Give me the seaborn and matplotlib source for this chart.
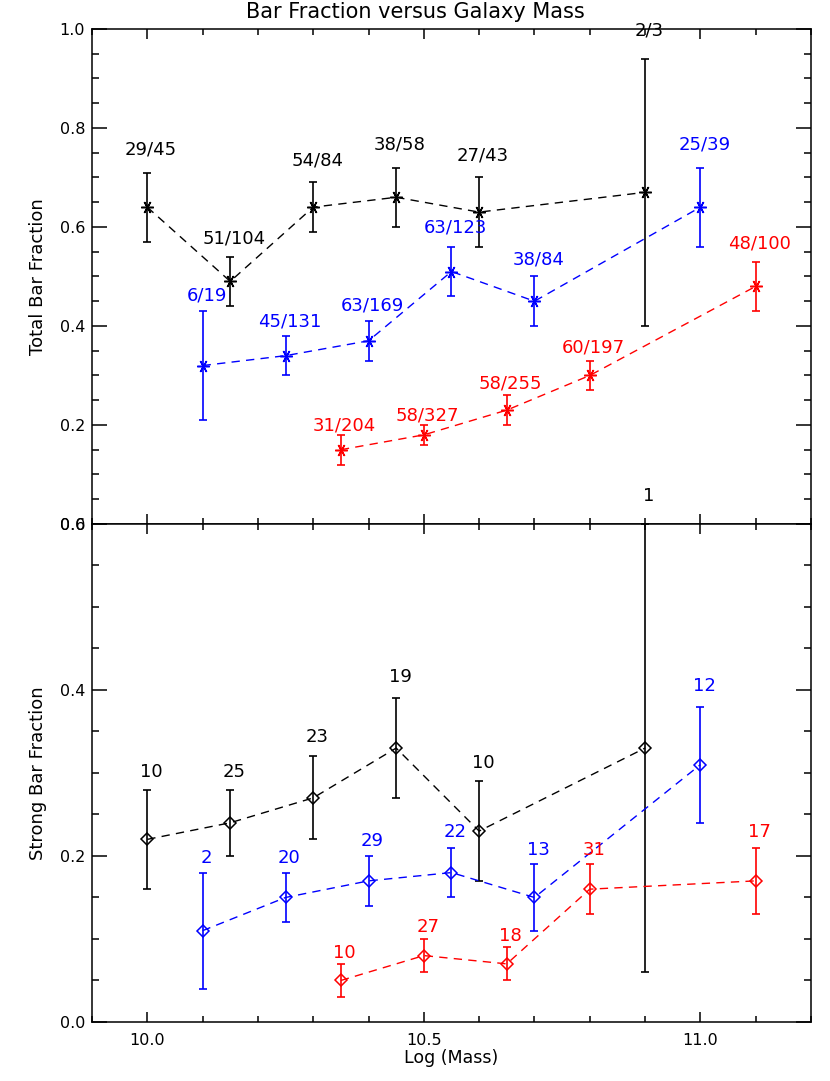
import numpy as np
import matplotlib
matplotlib.use("Agg")
import matplotlib.pyplot as plt
import seaborn as sns

# Total bar fraction (top panel)
tot_black_x = [10.0, 10.15, 10.3, 10.45, 10.6, 10.9]
tot_black_y = [0.64, 0.49, 0.64, 0.66, 0.63, 0.67]
tot_black_lo = [0.57, 0.44, 0.59, 0.60, 0.56, 0.40]
tot_black_hi = [0.71, 0.54, 0.69, 0.72, 0.70, 0.94]
tot_black_lab = ["29/45", "51/104", "54/84", "38/58", "27/43", "2/3"]

tot_blue_x = [10.1, 10.25, 10.4, 10.55, 10.7, 11.0]
tot_blue_y = [0.32, 0.34, 0.37, 0.51, 0.45, 0.64]
tot_blue_lo = [0.21, 0.30, 0.33, 0.46, 0.40, 0.56]
tot_blue_hi = [0.43, 0.38, 0.41, 0.56, 0.50, 0.72]
tot_blue_lab = ["6/19", "45/131", "63/169", "63/123", "38/84", "25/39"]

tot_red_x = [10.35, 10.5, 10.65, 10.8, 11.1]
tot_red_y = [0.15, 0.18, 0.23, 0.30, 0.48]
tot_red_lo = [0.12, 0.16, 0.20, 0.27, 0.43]
tot_red_hi = [0.18, 0.20, 0.26, 0.33, 0.53]
tot_red_lab = ["31/204", "58/327", "58/255", "60/197", "48/100"]

# Strong bar fraction (bottom panel)
str_black_x = [10.0, 10.15, 10.3, 10.45, 10.6, 10.9]
str_black_y = [0.22, 0.24, 0.27, 0.33, 0.23, 0.33]
str_black_lo = [0.16, 0.20, 0.22, 0.27, 0.17, 0.06]
str_black_hi = [0.28, 0.28, 0.32, 0.39, 0.29, 0.60]
str_black_lab = ["10", "25", "23", "19", "10", "1"]

str_blue_x = [10.1, 10.25, 10.4, 10.55, 10.7, 11.0]
str_blue_y = [0.11, 0.15, 0.17, 0.18, 0.15, 0.31]
str_blue_lo = [0.04, 0.12, 0.14, 0.15, 0.11, 0.24]
str_blue_hi = [0.18, 0.18, 0.20, 0.21, 0.19, 0.38]
str_blue_lab = ["2", "20", "29", "22", "13", "12"]

str_red_x = [10.35, 10.5, 10.65, 10.8, 11.1]
str_red_y = [0.05, 0.08, 0.07, 0.16, 0.17]
str_red_lo = [0.03, 0.06, 0.05, 0.13, 0.13]
str_red_hi = [0.07, 0.10, 0.09, 0.19, 0.21]
str_red_lab = ["10", "27", "18", "31", "17"]

sns.set_style("ticks")
plt.rcParams['font.family'] = ['DejaVu Sans']
plt.rcParams['text.color'] = 'black'
plt.rcParams['axes.labelcolor'] = 'black'
plt.rcParams['xtick.color'] = 'black'
plt.rcParams['ytick.color'] = 'black'

fig = plt.figure(figsize=(8.3, 10.81), dpi=100)
ax1 = fig.add_axes([0.1108, 0.5153, 0.8663, 0.4579])
ax2 = fig.add_axes([0.1108, 0.0546, 0.8663, 0.4607])

top_series = [
    (tot_black_x, tot_black_y, tot_black_lo, tot_black_hi, tot_black_lab, "black"),
    (tot_blue_x, tot_blue_y, tot_blue_lo, tot_blue_hi, tot_blue_lab, "#0000ff"),
    (tot_red_x, tot_red_y, tot_red_lo, tot_red_hi, tot_red_lab, "#ff0000"),
]
bot_series = [
    (str_black_x, str_black_y, str_black_lo, str_black_hi, str_black_lab, "black"),
    (str_blue_x, str_blue_y, str_blue_lo, str_blue_hi, str_blue_lab, "#0000ff"),
    (str_red_x, str_red_y, str_red_lo, str_red_hi, str_red_lab, "#ff0000"),
]


def draw(ax, series, marker, ms, scale):
    for x, y, lo, hi, lab, c in series:
        x = np.array(x); y = np.array(y)
        lo = np.array(lo); hi = np.array(hi)
        sns.lineplot(x=x, y=y, ax=ax, color=c, lw=1.0, ls=(0, (6, 4.5)),
                     marker=marker, ms=ms, mec=c, mfc='none', mew=1.1,
                     sort=False, estimator=None)
        ax.errorbar(x, y, yerr=[y - lo, hi - y], fmt='none', ecolor=c,
                    elinewidth=1.2, capsize=3, capthick=1.2, clip_on=False)
        for xi, hii, t in zip(x, hi, lab):
            ax.text(xi + 0.007, hii * scale + 0.01, t, color=c, fontsize=13,
                    ha='center', va='center')


draw(ax1, top_series, (6, 2, 90), 9, 1.05)
draw(ax2, bot_series, 'D', 6, 1.04)

for ax in (ax1, ax2):
    ax.set_xlim(9.9, 11.2)
    ax.set_xticks([10.0, 10.5, 11.0])
    ax.set_xticks(np.arange(9.9, 11.25, 0.1), minor=True)
    ax.tick_params(which='both', direction='in', top=True, right=True,
                   width=1.1, labelsize=11.5, colors='black')
    ax.tick_params(axis='x', which='major', length=7, pad=8)
    ax.tick_params(axis='x', which='minor', length=4)
    ax.tick_params(axis='y', which='major', length=11, pad=5)
    ax.tick_params(axis='y', which='minor', length=5)
    for s in ax.spines.values():
        s.set_linewidth(1.1)
        s.set_color('black')
    ax.yaxis.set_label_coords(-0.063, 0.5)

ax1.set_ylim(0, 1.0)
ax1.set_yticks([0.0, 0.2, 0.4, 0.6, 0.8, 1.0])
ax1.set_yticks(np.arange(0, 1.01, 0.05), minor=True)
ax1.set_yticklabels(["0.0", "0.2", "0.4", "0.6", "0.8", "1.0"])
ax1.set_xticklabels([])
ax1.set_xlabel("")
ax1.set_ylabel("Total Bar Fraction", fontsize=13)

ax2.set_ylim(0, 0.6)
ax2.set_yticks([0.0, 0.2, 0.4, 0.6])
ax2.set_yticks(np.arange(0, 0.61, 0.05), minor=True)
ax2.set_yticklabels(["0.0", "0.2", "0.4", "0.6"])
ax2.set_xticklabels(["10.0", "10.5", "11.0"])
ax2.set_xlabel("Log (Mass)", fontsize=12.5, labelpad=1)
ax2.set_ylabel("Strong Bar Fraction", fontsize=13)

fig.text(0.5, 1 - 12 / 1081, "Bar Fraction versus Galaxy Mass", fontsize=15,
         ha='center', va='center')

fig.savefig("out.png", dpi=100)
